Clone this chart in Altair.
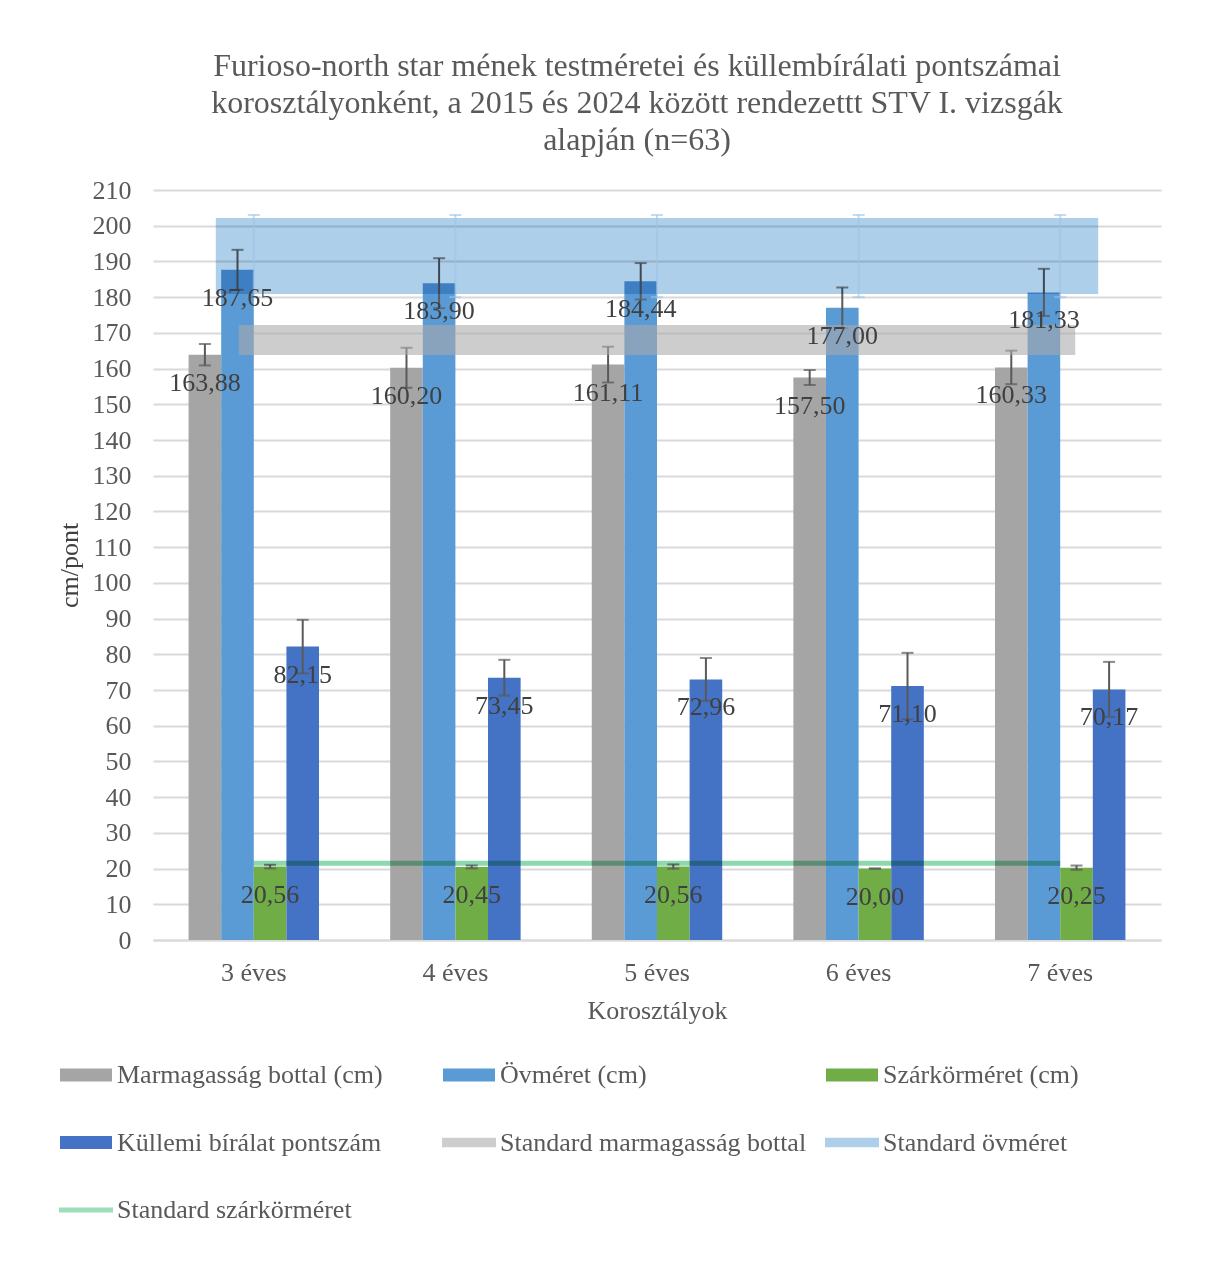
import altair as alt
import pandas as pd

# ---------------- data ----------------
categories = ["3 éves", "4 éves", "5 éves", "6 éves", "7 éves"]
series = ["Marmagasság bottal (cm)", "Övméret (cm)", "Szárkörméret (cm)", "Küllemi bírálat pontszám"]

marmagassag = [163.88, 160.20, 161.11, 157.50, 160.33]
marmagassag_err = [3.0, 5.6, 5.0, 2.1, 4.7]
ovmeret = [187.65, 183.90, 184.44, 177.00, 181.33]
ovmeret_err = [5.6, 7.0, 5.1, 5.7, 6.6]
szarkor = [20.56, 20.45, 20.56, 20.00, 20.25]
szarkor_err = [0.5, 0.4, 0.6, 0.0, 0.6]
kullemi = [82.15, 73.45, 72.96, 71.10, 70.17]
kullemi_err = [7.5, 5.0, 6.0, 9.3, 7.7]

std_names = ["Standard marmagasság bottal", "Standard övméret", "Standard szárkörméret"]
std_marmagassag = [168.0, 168.0, 168.0, 168.0, 168.0]
std_ovmeret = [191.5, 191.5, 191.5, 191.5, 191.5]
std_ovmeret_err = [11.5, 11.5, 11.5, 11.5, 11.5]
std_szarkor = [21.5, 21.5, 21.5, 21.5, 21.5]

y_ticks = [0, 10, 20, 30, 40, 50, 60, 70, 80, 90, 100, 110, 120, 130, 140, 150,
           160, 170, 180, 190, 200, 210]

title_lines = [
    "Furioso-north star mének testméretei és küllembírálati pontszámai",
    "korosztályonként, a 2015 és 2024 között rendezettt STV I. vizsgák",
    "alapján (n=63)",
]

# legend grid (column, row) for each entry
legend_names = series + std_names
legend_kind = ["bar", "bar", "bar", "bar", "line", "line", "thin"]
legend_col = [0, 1, 2, 0, 1, 2, 0]
legend_row = [0, 0, 0, 1, 1, 1, 2]

# ---------------- styles ----------------
FONT = "Liberation Serif"
bar_colors = ["#A5A5A5", "#5B9BD5", "#70AD47", "#4472C4"]
std_colors = ["#A9A9A9", "#AECFEA", "#8ED8B0"]
W, H = 1008, 750

# ---------------- tables ----------------
vals = [marmagassag, ovmeret, szarkor, kullemi]
errs = [marmagassag_err, ovmeret_err, szarkor_err, kullemi_err]
rows = []
for s, v, e in zip(series, vals, errs):
    for c, vi, ei in zip(categories, v, e):
        rows.append({"cat": c, "series": s, "value": vi,
                     "lo": vi - ei, "hi": vi + ei,
                     "label": f"{vi:.2f}".replace(".", ",")})
bars_df = pd.DataFrame(rows)

std_df = pd.DataFrame({
    "cat": categories * 3,
    "name": [std_names[0]] * 5 + [std_names[1]] * 5 + [std_names[2]] * 5,
    "value": std_marmagassag + std_ovmeret + std_szarkor,
})
std_err_df = pd.DataFrame({
    "cat": categories,
    "lo": [v - e for v, e in zip(std_ovmeret, std_ovmeret_err)],
    "hi": [v + e for v, e in zip(std_ovmeret, std_ovmeret_err)],
})
leg_df = pd.DataFrame({"name": legend_names, "kind": legend_kind,
                       "col": legend_col, "row": legend_row})

color_scale = alt.Scale(domain=series + std_names, range=bar_colors + std_colors)

x_scale = alt.Scale(paddingInner=0.353, paddingOuter=0.1765)
x_axis = alt.Axis(title="Korosztályok", labelAngle=0, labelFontSize=26,
                  labelFont=FONT, labelColor="#595959", labelPadding=19,
                  titleFont=FONT, titleFontSize=26, titleColor="#595959",
                  titleFontWeight="normal", titlePadding=12,
                  ticks=False, domain=True, domainColor="#D9D9D9",
                  domainWidth=2, grid=False)
y_scale = alt.Scale(domain=[0, 210], nice=False, zero=True)
y_axis = alt.Axis(title="cm/pont", values=y_ticks, labelFontSize=26,
                  labelFont=FONT, labelColor="#595959", labelPadding=22,
                  labelOverlap=False,
                  titleFont=FONT, titleFontSize=26, titleColor="#404040",
                  titleFontWeight="normal", titlePadding=10,
                  ticks=False, domain=False, grid=True,
                  gridColor="#D9D9D9", gridWidth=2)
xoff = alt.XOffset("series:N", sort=series, scale=alt.Scale(paddingInner=0, paddingOuter=0))


def xc():
    return alt.X("cat:N", sort=categories, scale=x_scale, axis=x_axis)


def yq(field):
    return alt.Y(field, scale=y_scale, axis=y_axis)


base = alt.Chart(bars_df)

bars = base.mark_bar().encode(
    x=xc(), xOffset=xoff, y=yq("value:Q"),
    color=alt.Color("series:N", scale=color_scale, legend=None),
)

err_rule = base.mark_rule(color="#595959", strokeWidth=2).encode(
    x=xc(), xOffset=xoff, y=yq("lo:Q"), y2="hi:Q")
err_top = base.mark_tick(color="#595959", thickness=2, size=12).encode(
    x=xc(), xOffset=xoff, y=yq("hi:Q"))
err_bot = base.mark_tick(color="#595959", thickness=2, size=12).encode(
    x=xc(), xOffset=xoff, y=yq("lo:Q"))

std_base = alt.Chart(std_df)
std_gray = std_base.transform_filter(alt.datum.name == std_names[0]).mark_line(
    strokeWidth=30, strokeCap="square", strokeJoin="bevel", opacity=0.58).encode(
    x=xc(), y=yq("value:Q"),
    color=alt.Color("name:N", scale=color_scale, legend=None))
std_blue = std_base.transform_filter(alt.datum.name == std_names[1]).mark_line(
    strokeWidth=76, strokeCap="square", strokeJoin="bevel", blend="multiply").encode(
    x=xc(), y=yq("value:Q"),
    color=alt.Color("name:N", scale=color_scale, legend=None))
std_green = std_base.transform_filter(alt.datum.name == std_names[2]).mark_line(
    strokeWidth=5, strokeCap="butt", strokeJoin="bevel", blend="multiply").encode(
    x=xc(), y=yq("value:Q"),
    color=alt.Color("name:N", scale=color_scale, legend=None))

std_err_rule = alt.Chart(std_err_df).mark_rule(color="#9DC3E6", strokeWidth=2, opacity=0.6).encode(
    x=xc(), y=yq("lo:Q"), y2="hi:Q")
std_err_top = alt.Chart(std_err_df).mark_tick(color="#9DC3E6", thickness=2, size=12, opacity=0.6).encode(
    x=xc(), y=yq("hi:Q"))
std_err_bot = alt.Chart(std_err_df).mark_tick(color="#9DC3E6", thickness=2, size=12, opacity=0.6).encode(
    x=xc(), y=yq("lo:Q"))

labels = base.mark_text(font=FONT, fontSize=26, color="#404040", baseline="middle",
                        align="center", dy=28).encode(
    x=xc(), xOffset=xoff, y=yq("value:Q"), text="label:N")

main = alt.layer(bars, err_rule, err_top, err_bot, std_gray, std_blue, std_green,
                 std_err_rule, std_err_top, std_err_bot, labels)

# ---------------- legend (own scales) ----------------
lx = alt.X("col:Q", scale=alt.Scale(domain=[0, 2], range=[-67, 699]), axis=None)
ly = alt.Y("row:Q", scale=alt.Scale(domain=[0, 2], range=[885, 1020]), axis=None)
leg_base = alt.Chart(leg_df)
leg_bar = leg_base.transform_filter(alt.datum.kind == "bar").mark_point(
    shape="M-1,-0.25H1V0.25H-1Z", size=2704, filled=True, opacity=1, strokeWidth=0).encode(
    x=lx, y=ly, color=alt.Color("name:N", scale=color_scale, legend=None))
leg_line = leg_base.transform_filter(alt.datum.kind == "line").mark_point(
    shape="M-1,-0.18H1V0.18H-1Z", size=2916, filled=True, strokeWidth=0).encode(
    x=lx, y=ly, color=alt.Color("name:N", scale=color_scale, legend=None),
    opacity=alt.condition(alt.datum.name == std_names[0], alt.value(0.58), alt.value(1)))
leg_thin = leg_base.transform_filter(alt.datum.kind == "thin").mark_point(
    shape="M-1,-0.09H1V0.09H-1Z", size=2916, filled=True, strokeWidth=0, opacity=0.85).encode(
    x=lx, y=ly, color=alt.Color("name:N", scale=color_scale, legend=None))
leg_text = leg_base.mark_text(font=FONT, fontSize=26, color="#595959", align="left",
                              baseline="middle", dx=31).encode(x=lx, y=ly, text="name:N")
legend = alt.layer(leg_bar, leg_line, leg_thin, leg_text)

chart = alt.layer(main, legend).resolve_scale(x="independent", y="independent").properties(
    width=W, height=H,
    padding={"left": 48, "top": 42, "right": 10, "bottom": 10},
    title=alt.TitleParams(text=title_lines, font=FONT, fontSize=32, fontWeight="normal",
                          color="#595959", lineHeight=37, anchor="middle", frame="group",
                          dx=-20, offset=20),
).configure(background="white").configure_view(stroke="transparent", strokeWidth=0)

chart.save("out.html", embed_options={"renderer": "svg", "actions": False})
